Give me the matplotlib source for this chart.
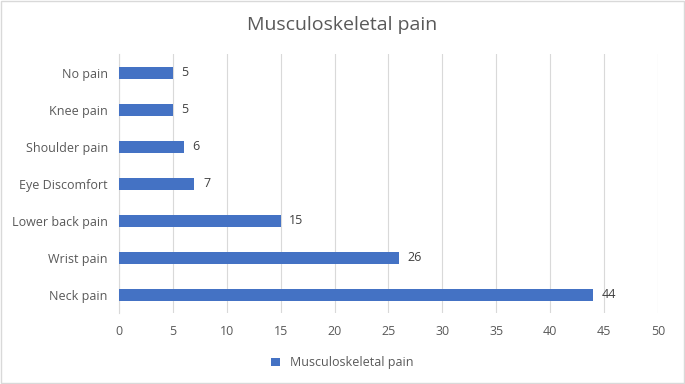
import matplotlib.pyplot as plt
from matplotlib.patches import Rectangle
from matplotlib import rcParams
rcParams.update({'font.family': 'Open Sans', 'font.size': 9})

# data
categories = ['Neck pain', 'Wrist pain', 'Lower back pain', 'Eye Discomfort',
              'Shoulder pain', 'Knee pain', 'No pain']
values = [44, 26, 15, 7, 6, 5, 5]
xticks = [0, 5, 10, 15, 20, 25, 30, 35, 40, 45, 50]

bar_color = '#4472C4'
text_color = '#595959'

fig = plt.figure(figsize=(6.85, 3.84), dpi=100)
ax = fig.add_axes([0.1737, 0.1836, 0.7869, 0.6745])

ypos = range(len(categories))
ax.barh(ypos, values, height=0.35, color=bar_color, zorder=3,
        label='Musculoskeletal pain')
for y, v in zip(ypos, values):
    ax.text(v + 0.8, y, str(v), va='center', ha='left', fontsize=9, color='#404040')

ax.set_xlim(0, 50)
ax.set_ylim(-0.5, len(categories) - 0.5)
ax.set_xticks(xticks)
ax.set_yticks(list(ypos))
ax.set_yticklabels(categories)
ax.tick_params(axis='both', length=0, colors=text_color, labelsize=9)
ax.tick_params(axis='x', pad=8)
ax.tick_params(axis='y', pad=8)
ax.grid(axis='x', color='#D9D9D9', linewidth=0.8, zorder=0)
for s in ['top', 'right', 'bottom']:
    ax.spines[s].set_visible(False)
ax.spines['left'].set_color('#D9D9D9')

fig.text(0.5, 0.935, 'Musculoskeletal pain', ha='center', va='center',
         fontsize=14, color=text_color)

fig.legend(loc='center', bbox_to_anchor=(0.5, 0.055), frameon=False,
           fontsize=9, handlelength=0.7, handleheight=0.7, labelcolor=text_color)

fig.patches.append(Rectangle((0.001, 0.002), 0.997, 0.995, transform=fig.transFigure,
                             fill=False, edgecolor='#D9D9D9', linewidth=1))

fig.savefig('out.png', dpi=100)
